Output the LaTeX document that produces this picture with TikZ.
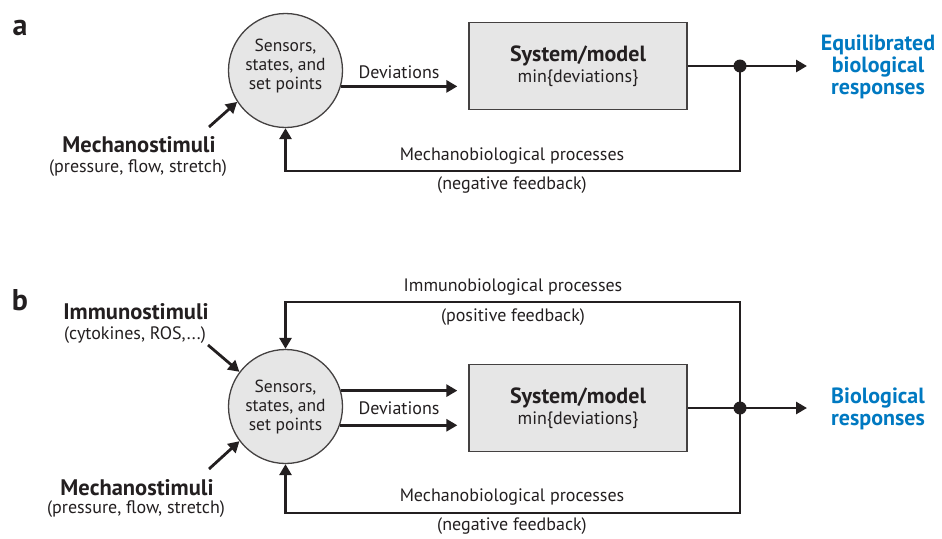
\documentclass[tikz,border=0pt]{standalone}
\usepackage{fontspec}
\setmainfont{PT Sans}
\usetikzlibrary{arrows.meta,calc}
\definecolor{ink}{HTML}{231F20}
\definecolor{arblue}{HTML}{0079C1}
\definecolor{boxfill}{HTML}{E6E6E6}
\tikzset{
  conn/.style={draw=ink, line width=2.8pt, -{Triangle[length=11pt,width=12pt]}},
  plain/.style={draw=ink, line width=2.8pt},
  sensor/.style={circle, draw=ink!85, line width=1.3pt, fill=boxfill, minimum size=114pt, inner sep=0pt},
  sensortext/.style={align=center, font=\fontsize{17.5}{19}\selectfont, text=ink, inner sep=0pt},
  sysbox/.style={rectangle, draw=ink!85, line width=1.3pt, fill=boxfill, minimum width=218pt, minimum height=87pt, inner sep=0pt},
  boxtext/.style={align=center, text=ink, inner sep=0pt},
  jdot/.style={circle, fill=ink, minimum size=13pt, inner sep=0pt},
  lbl/.style={font=\fontsize{18}{20}\selectfont, text=ink, inner sep=0pt},
  stim/.style={font=\fontsize{22.5}{24}\selectfont\bfseries, text=ink, inner sep=0pt},
  resp/.style={font=\fontsize{22}{22}\selectfont\bfseries, text=arblue, align=center, inner sep=0pt},
  panel/.style={font=\fontsize{30}{30}\selectfont\bfseries, text=ink, inner sep=0pt},
}
\newcommand{\sysboxtext}{{\fontsize{22}{22}\selectfont\bfseries System/model}\\[3pt]{\fontsize{18}{19}\selectfont min\{deviations\}}}
\begin{document}
\begin{tikzpicture}[x=1pt,y=-1pt]
\useasboundingbox (0,0) rectangle (942,538);
% ---------- panel a ----------
\node[panel] (la) at (20,28) {a};
\node[sensor] (sa) at (285.5,70.5) {};
\node[sensortext] (sta) at (285.5,66) {Sensors,\\states, and\\set points};
\node[sysbox] (ba) at (578,66) {};
\node[boxtext] (bta) at (578,66) {\sysboxtext};
\node[jdot] (da) at (740,66) {};
\coordinate (oa) at (807,66);
\node[resp] (ra) at (878,67) {Equilibrated\\biological\\responses};
\draw[conn, shorten >=11pt] (sa.-16) -- (sa.-16 -| ba.west);
\node[lbl] (deva) at (399,72) {Deviations};
\draw[plain] (ba.east) -- (da.center);
\draw[conn] (da.center) -- (oa);
\coordinate (fa) at (740,171);
\draw[conn] (da.center) -- (fa) -| (sa.south);
\node[lbl] (mpa) at (512,156) {Mechanobiological processes};
\node[lbl] (nfa) at (512,185) {(negative feedback)};
\node[stim] (msa) at (139,145) {Mechanostimuli};
\node[lbl] (mpsa) at (138,168) {(pressure, flow, stretch)};
\coordinate (sxa) at (209,127);
\draw[conn] (sxa) -- (sa.213);
% ---------- panel b ----------
\node[panel] (lb) at (20,300) {b};
\node[sensor] (sb) at (285.5,406.5) {};
\node[sensortext] (stb) at (285.5,407) {Sensors,\\states, and\\set points};
\node[sysbox] (bb) at (578,408) {};
\node[boxtext] (btb) at (578,408) {\sysboxtext};
\node[jdot] (db) at (740,408) {};
\coordinate (ob) at (807,408);
\node[resp] (rb) at (878,409) {Biological\\responses};
\draw[conn, shorten >=11pt] (sb.16) -- (sb.16 -| bb.west);
\draw[conn, shorten >=11pt] (sb.-19) -- (sb.-19 -| bb.west);
\node[lbl] (devb) at (399,408) {Deviations};
\draw[plain] (bb.east) -- (db.center);
\draw[conn] (db.center) -- (ob);
\coordinate (tb) at (740,302);
\coordinate (fb) at (740,513);
\draw[conn] (db.center) -- (tb) -| (sb.north);
\draw[conn] (db.center) -- (fb) -| (sb.south);
\node[lbl] (ipb) at (513,287) {Immunobiological processes};
\node[lbl] (pfb) at (513,317) {(positive feedback)};
\node[lbl] (mpb) at (512,497) {Mechanobiological processes};
\node[lbl] (nfb) at (512,526) {(negative feedback)};
\node[stim] (isb) at (136,312) {Immunostimuli};
\node[lbl] (ctb) at (135,335) {(cytokines, ROS,...)};
\node[stim] (msb) at (137,488) {Mechanostimuli};
\node[lbl] (mpsb) at (136,509) {(pressure, flow, stretch)};
\coordinate (sib) at (208,345);
\coordinate (smb) at (209,469);
\draw[conn] (sib) -- (sb.143);
\draw[conn] (smb) -- (sb.217);
\end{tikzpicture}
\end{document}
